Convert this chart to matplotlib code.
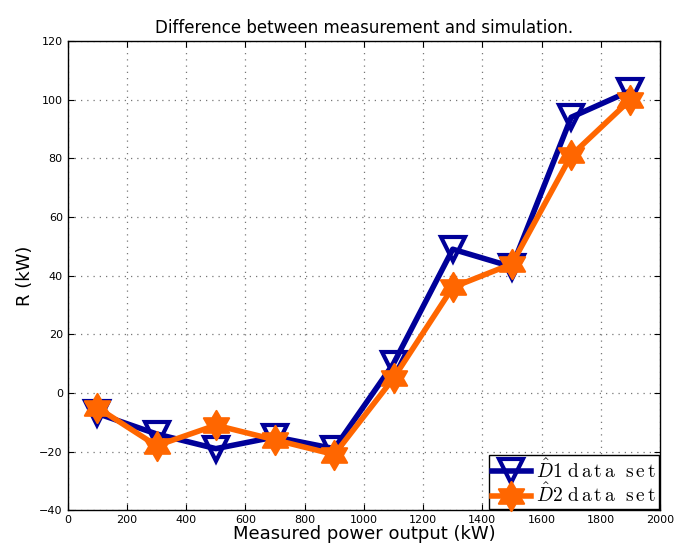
import matplotlib
matplotlib.use("Agg")
import matplotlib.pyplot as plt
import numpy as np
from matplotlib.path import Path

# measured power output (kW) and residuals for both data sets
power = [100, 300, 500, 700, 900, 1100, 1300, 1500, 1700, 1900]
r_d1 = [-7, -14, -19, -15, -19, 10, 49, 43, 94, 103]
r_d2 = [-5, -18, -11, -16, -21, 5, 36, 44, 81, 100]


def hexagram():
    """ six-pointed star made of two overlapping triangles """
    ang = np.pi / 2 + np.arange(12) * np.pi / 6
    rad = np.where(np.arange(12) % 2 == 0, 1.0, 1 / np.sqrt(3))
    verts = np.column_stack([rad * np.cos(ang), rad * np.sin(ang)])
    verts = np.vstack([verts, verts[:1]])
    codes = [Path.MOVETO] + [Path.LINETO] * 11 + [Path.CLOSEPOLY]
    return Path(verts, codes)


plt.rcParams['mathtext.fontset'] = 'cm'

fig = plt.figure(figsize=(6.77, 5.54), dpi=100)
ax = fig.add_axes([0.1, 0.079, 0.875, 0.847])

ax.plot(power, r_d1, color='#000099', lw=4, marker='v', markersize=17,
        markerfacecolor='none', markeredgewidth=3,
        label=r'$\hat{D}1\ \mathrm{d\,a\,t\,a\ \ s\,e\,t}$')
ax.plot(power, r_d2, color='#ff6600', lw=4, marker=hexagram(), markersize=21,
        markerfacecolor='#ff6600', markeredgewidth=1.5,
        label=r'$\hat{D}2\ \mathrm{d\,a\,t\,a\ \ s\,e\,t}$')

ax.set_xlim(0, 2000)
ax.set_ylim(-40, 120)
ax.set_xticks(range(0, 2001, 200))
ax.set_yticks(range(-40, 121, 20))
ax.tick_params(direction='in', top=True, right=True, labelsize=8, length=4)
ax.grid(True, linestyle=(0, (1, 4)), color='#777777', lw=0.9)
for s in ax.spines.values():
    s.set_linewidth(1)

ax.set_title('Difference between measurement and simulation.', fontsize=12)
ax.set_xlabel('Measured power output (kW)', fontsize=13, labelpad=0)
ax.set_ylabel('R (kW)', fontsize=13, labelpad=4)

leg = ax.legend(loc='lower right', fontsize=14, fancybox=False,
                edgecolor='black', framealpha=1, borderpad=0.15,
                handlelength=2.0, labelspacing=0.05, borderaxespad=0.05,
                handletextpad=0.3, bbox_to_anchor=(1.0, 0.0))
leg.get_frame().set_linewidth(1)

fig.savefig('out.png')
